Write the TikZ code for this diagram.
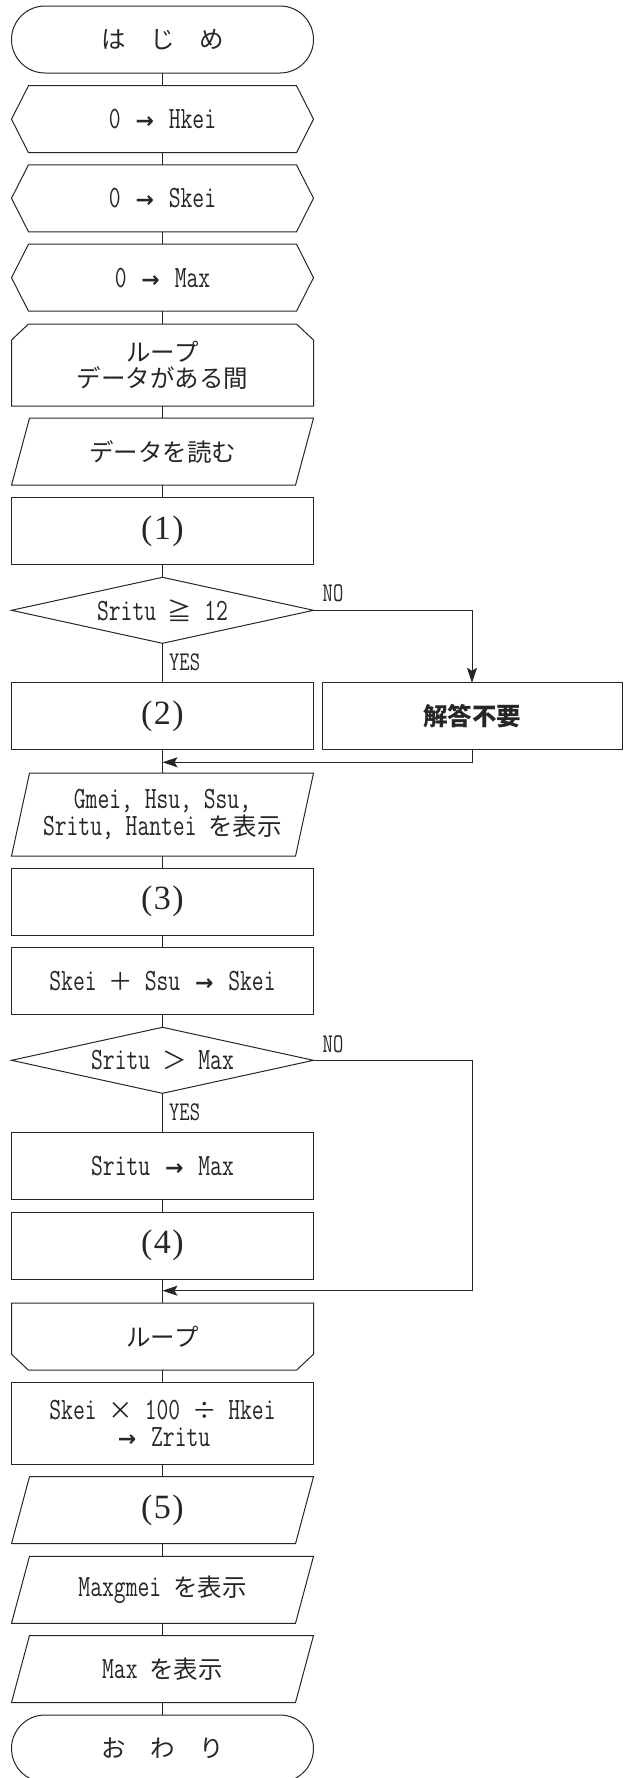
\documentclass[tikz,border=0pt]{standalone}
\usepackage{fontspec}
\setmainfont{Latin Modern Mono}[FakeStretch=0.74]
\newfontfamily\jpf{Noto Sans CJK JP}
\newfontfamily\numf{Liberation Serif}
\newfontfamily\arrf{DejaVu Sans}
\usetikzlibrary{arrows.meta,calc}
\newcommand{\J}[1]{{\jpf\fontsize{24.5}{28}\selectfont #1}}
\newcommand{\op}[1]{\makebox[24.5pt]{\jpf\fontsize{24.5}{28}\selectfont #1}}
\newcommand{\ar}{\makebox[24.5pt]{\arrf\bfseries\fontsize{22}{28}\selectfont →}}
\newcommand{\pn}[1]{(\kern1.5pt#1\kern1.5pt)}
\newcommand{\drHex}[1]{\draw[shp] ($(#1.north west)+(17,0)$) -- ($(#1.north east)+(-17,0)$) -- (#1.east) -- ($(#1.south east)+(-17,0)$) -- ($(#1.south west)+(17,0)$) -- (#1.west) -- cycle;}
\newcommand{\drPar}[1]{\draw[shp] ($(#1.north west)+(18,0)$) -- (#1.north east) -- ($(#1.south east)+(-18,0)$) -- (#1.south west) -- cycle;}
\newcommand{\drLoopTop}[1]{\draw[shp] ($(#1.north west)+(17,0)$) -- ($(#1.north east)+(-17,0)$) -- ($(#1.north east)+(0,16)$) -- (#1.south east) -- (#1.south west) -- ($(#1.north west)+(0,16)$) -- cycle;}
\newcommand{\drLoopBot}[1]{\draw[shp] (#1.north west) -- (#1.north east) -- ($(#1.south east)+(0,-16)$) -- ($(#1.south east)+(-17,0)$) -- ($(#1.south west)+(17,0)$) -- ($(#1.south west)+(0,-16)$) -- cycle;}
\newcommand{\drDia}[1]{\draw[shp] (#1.north) -- (#1.east) -- (#1.south) -- (#1.west) -- cycle;}
\newcommand{\drTerm}[1]{\draw[shp, rounded corners=33.5pt] (#1.north west) rectangle (#1.south east);}
\begin{document}
\begin{tikzpicture}[x=1pt,y=-1pt,
  box/.style={minimum width=302pt, minimum height=67pt, inner sep=0pt, outer sep=0pt, text=black!85, align=center, font=\fontsize{31}{28}\selectfont},
  rbox/.style={box, draw=black!85, line width=1pt},
  shp/.style={draw=black!85, line width=1pt},
  ln/.style={draw=black!85, line width=0.9pt},
  arr/.style={ln, -{Stealth[length=15pt,width=10pt,inset=3pt]}},
  lbl/.style={inner sep=0pt, text=black!85, font=\fontsize{27}{27}\selectfont},
  numtxt/.style={font=\numf\fontsize{34}{34}\selectfont}
]
\useasboundingbox (0,0) rectangle (632,1778);

\node[box] (start) at (162.5,39.5) {\J{は　じ　め}};
\drTerm{start}
\node[box] (h1) at (162.5,119.2) {0 \ar{} Hkei};
\drHex{h1}
\node[box] (h2) at (162.5,198.3) {0 \ar{} Skei};
\drHex{h2}
\node[box] (h3) at (162.5,277.7) {0 \ar{} Max};
\drHex{h3}
\node[box, minimum height=82pt] (lpA) at (162.5,365) {\J{ループ}\\[-2pt]\J{データがある間}};
\drLoopTop{lpA}
\node[box] (rd) at (162.5,451.7) {\J{データを読む}};
\drPar{rd}
\node[rbox, numtxt] (p1) at (162.5,531.3) {\pn{1}};
\node[box, minimum height=66pt] (d1) at (162.5,610.3) {Sritu \op{≧} 12};
\drDia{d1}
\node[rbox, numtxt] (p2) at (162.5,716.3) {\pn{2}};
\node[rbox, minimum width=300pt] (ans) at (472,716.3) {\J{\bfseries 解答不要}};
\node[box, minimum height=83pt] (o1) at (162.5,814.7) {Gmei, Hsu, Ssu,\\[-1pt]Sritu, Hantei \J{を表示}};
\drPar{o1}
\node[rbox, numtxt] (p3) at (162.5,901.5) {\pn{3}};
\node[rbox] (sk) at (162.5,981.2) {Skei \op{＋} Ssu \ar{} Skei};
\node[box, minimum height=66pt] (d2) at (162.5,1060.3) {Sritu \op{＞} Max};
\drDia{d2}
\node[rbox] (smax) at (162.5,1166.3) {Sritu \ar{} Max};
\node[rbox, numtxt] (p4) at (162.5,1245.8) {\pn{4}};
\node[box] (lpB) at (162.5,1336.7) {\J{ループ}};
\drLoopBot{lpB}
\node[rbox, minimum height=82pt] (zr) at (162.5,1423.5) {Skei \op{×} 100 \op{÷} Hkei\\[-1pt]\ar{} Zritu};
\node[box, numtxt] (p5) at (162.5,1510.2) {\pn{5}};
\drPar{p5}
\node[box] (mg) at (162.5,1589.8) {Maxgmei \J{を表示}};
\drPar{mg}
\node[box] (mx) at (162.5,1669) {Max \J{を表示}};
\drPar{mx}
\node[box] (end) at (162.5,1748.5) {\J{お　わ　り}};
\drTerm{end}

\node[lbl] (no1) at (333,593) {NO};
\node[lbl, anchor=west] (yes1) at (169,662) {YES};
\node[lbl] (no2) at (333,1044) {NO};
\node[lbl, anchor=west] (yes2) at (169,1112) {YES};

\coordinate (m1) at (162.5,762.3);
\coordinate (c2) at (472,1290.7);
\coordinate (m2) at (162.5,1290.7);

\draw[ln] (start) -- (h1);
\draw[ln] (h1) -- (h2);
\draw[ln] (h2) -- (h3);
\draw[ln] (h3) -- (lpA);
\draw[ln] (lpA) -- (rd);
\draw[ln] (rd) -- (p1);
\draw[ln] (p1) -- (d1);
\draw[ln] (d1) -- (p2);
\draw[arr] (d1.east) -| (ans.north);
\draw[ln] (p2) -- (o1);
\draw[arr] (ans.south) |- (m1);
\draw[ln] (o1) -- (p3);
\draw[ln] (p3) -- (sk);
\draw[ln] (sk) -- (d2);
\draw[ln] (d2) -- (smax);
\draw[ln] (smax) -- (p4);
\draw[ln] (p4) -- (lpB);
\draw[arr] (d2.east) -| (c2) -- (m2);
\draw[ln] (lpB) -- (zr);
\draw[ln] (zr) -- (p5);
\draw[ln] (p5) -- (mg);
\draw[ln] (mg) -- (mx);
\draw[ln] (mx) -- (end);
\end{tikzpicture}
\end{document}
